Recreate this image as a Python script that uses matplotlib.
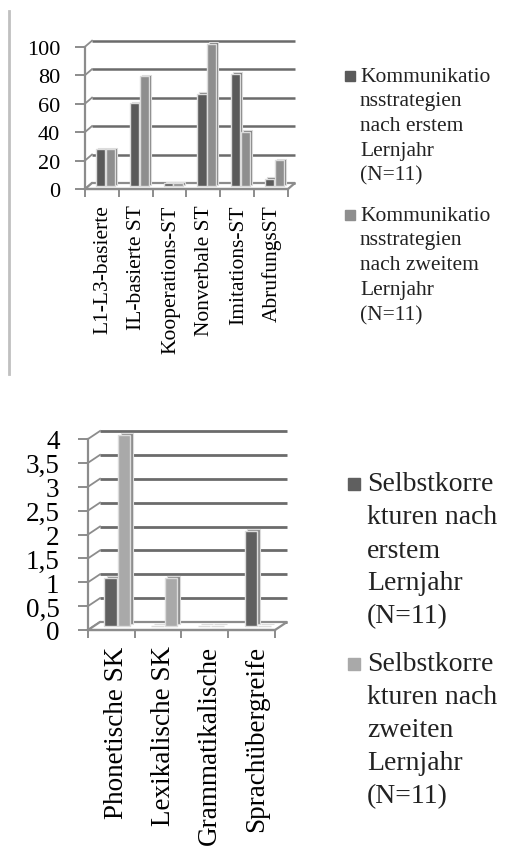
import numpy as np
import matplotlib.pyplot as plt
import matplotlib.transforms as mtransforms
from matplotlib.patches import Rectangle
from matplotlib.lines import Line2D

plt.rcParams['font.family'] = ['Liberation Serif', 'DejaVu Serif']

# ---------------------------------------------------------------
# Daten: Kommunikationsstrategien (oben)
kat_oben = ['L1-L3-basierte', 'IL-basierte ST', 'Kooperations-ST',
            'Nonverbale ST', 'Imitations-ST', 'AbrufungsST']
jahr1_oben = [26, 58, 2, 65, 79, 5]
jahr2_oben = [26, 77, 2, 100, 38, 18]
yticks_oben = [0, 20, 40, 60, 80, 100]
ylabels_oben = ['0', '20', '40', '60', '80', '100']
leg_oben = [['Kommunikatio', 'nsstrategien', 'nach erstem', 'Lernjahr', '(N=11)'],
            ['Kommunikatio', 'nsstrategien', 'nach zweitem', 'Lernjahr', '(N=11)']]

# Daten: Selbstkorrekturen (unten)
kat_unten = ['Phonetische SK', 'Lexikalische SK', 'Grammatikalische',
             'Sprachübergreife']
jahr1_unten = [1, 0, 0, 2]
jahr2_unten = [4, 1, 0, 0]
yticks_unten = [0, 0.5, 1, 1.5, 2, 2.5, 3, 3.5, 4]
ylabels_unten = ['0', '0,5', '1', '1,5', '2', '2,5', '3', '3,5', '4']
leg_unten = [['Selbstkorre', 'kturen nach', 'erstem', 'Lernjahr', '(N=11)'],
             ['Selbstkorre', 'kturen nach', 'zweiten', 'Lernjahr', '(N=11)']]

W, H = 510, 853
fig = plt.figure(figsize=(W / 100, H / 100), dpi=100)
gray = '#6b6b6b'
edge = '#dcdcdc'


def px_axes(x0, y0, x1, y1):
    # pixel box (top-left origin) -> figure fraction axes
    return fig.add_axes([x0 / W, 1 - y1 / H, (x1 - x0) / W, (y1 - y0) / H])


def chart(ax, kats, s1, s2, cols, yticks, ylabels, depth, fs_y, fs_x, ypad, gw, xshift):
    n = len(kats)
    x = np.arange(n)
    ymax = yticks[-1]
    ax.set_xlim(-0.5, n - 0.5)
    ax.set_ylim(0, ymax)
    bbox = ax.get_window_extent()
    ddx = depth[0] / (bbox.width / n)
    ddy = depth[1] / (bbox.height / ymax)

    # floor
    ax.fill([-0.5, n - 0.5, n - 0.5 + ddx, -0.5 + ddx], [0, 0, ddy, ddy],
            facecolor='white', edgecolor='#8c8c8c', lw=1.6, zorder=1, clip_on=False)
    # back wall gridlines + connectors
    for y in yticks:
        ax.plot([-0.5 + ddx, n - 0.5 + ddx], [y + ddy, y + ddy], color=gray,
                lw=gw, zorder=0, clip_on=False, solid_capstyle='butt')
        ax.plot([-0.5, -0.5 + ddx], [y, y + ddy], color='#8c8c8c', lw=1.3,
                zorder=0, clip_on=False)

    w = 0.27
    for off, vals, c in [(-0.145, s1, cols[0]), (0.145, s2, cols[1])]:
        xs = x + off + ddx / 2
        # side / top face
        ax.bar(xs + 0.06, vals, width=w, bottom=ddy * 0.75,
               color=cols[2], edgecolor=edge, lw=0.8, zorder=2, clip_on=False)
        ax.bar(xs, vals, width=w, bottom=ddy / 2, color=c, edgecolor=edge,
               lw=1.0, zorder=3, clip_on=False)

    ax.set_xticks(x, kats, rotation=90, fontsize=fs_x, va='top')
    ax.set_xticks(np.arange(n + 1) - 0.5, minor=True)
    ax.tick_params(axis='x', which='major', length=0, pad=11)
    ax.tick_params(axis='x', which='minor', length=6, width=1.4, color='#8c8c8c',
                   direction='out')
    shift = mtransforms.ScaledTranslation(xshift / 100, 0, fig.dpi_scale_trans)
    for lab in ax.get_xticklabels():
        lab.set_transform(lab.get_transform() + shift)
    ax.set_yticks(yticks, ylabels, fontsize=fs_y)
    ax.tick_params(axis='y', length=7, width=1.4, color='#8c8c8c', pad=ypad)
    for s in ['top', 'right']:
        ax.spines[s].set_visible(False)
    for s in ['left', 'bottom']:
        ax.spines[s].set_color('#8c8c8c')
        ax.spines[s].set_linewidth(1.6)
    ax.set_facecolor('none')


def legend(entries, cols, x_box, box, x_text, y_first, step, gap, fs):
    y = y_first
    for lines, c in zip(entries, cols):
        fig.patches.append(Rectangle((x_box / W, 1 - (y + box / 2) / H), box / W, box / H,
                                     transform=fig.transFigure, color=c))
        for ln in lines:
            fig.text(x_text / W, 1 - y / H, ln, fontsize=fs, va='center', ha='left',
                     color='#222222')
            y += step
        y += gap - step


# left frame line of the upper chart
fig.add_artist(Line2D([9 / W, 9 / W], [1 - 12 / H, 1 - 375 / H], color='#c0c0c0', lw=2))

ax1 = px_axes(85, 47.7, 288, 190)
chart(ax1, kat_oben, jahr1_oben, jahr2_oben, ['#5a5a5a', '#8e8e8e', '#7a7a7a'],
      yticks_oben, ylabels_oben, (7, 6), 16, 15.5, 11, 1.8, 1)
legend(leg_oben, ['#5a5a5a', '#8e8e8e'], 345, 10, 360, 77, 24.8, 40, 15.5)

ax2 = px_axes(88, 440, 275, 631)
chart(ax2, kat_unten, jahr1_unten, jahr2_unten, ['#5f5f5f', '#a9a9a9', '#8a8a8a'],
      yticks_unten, ylabels_unten, (12, 8), 19.5, 19.5, 13.5, 2.0, 5)
legend(leg_unten, ['#5f5f5f', '#a9a9a9'], 348, 12, 367, 485, 33, 48, 20)

fig.savefig('out.png', dpi=100)
